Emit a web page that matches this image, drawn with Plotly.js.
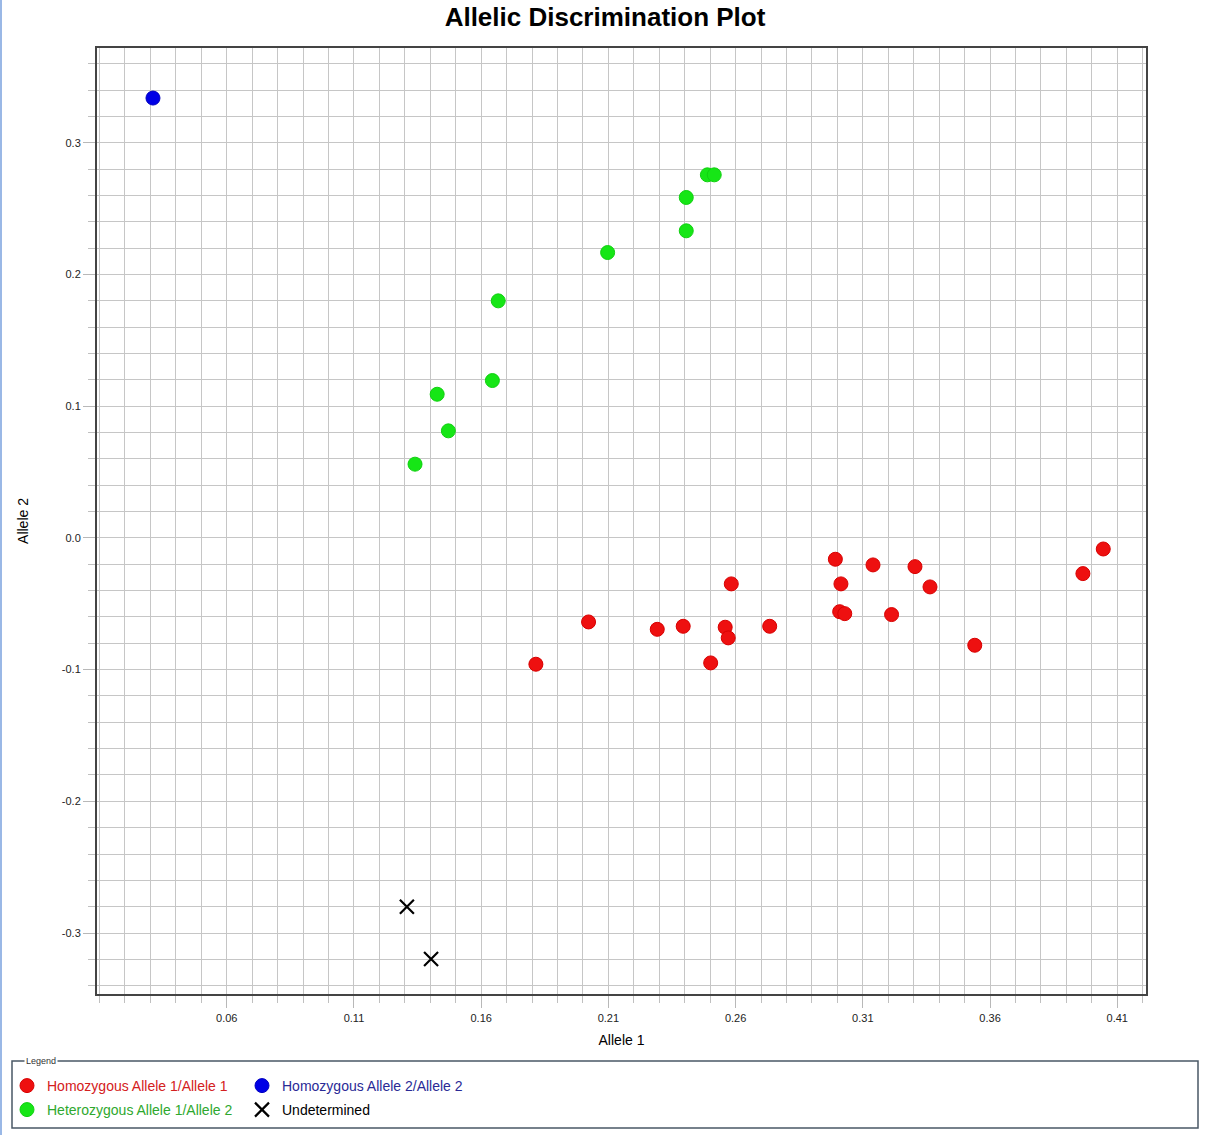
<!DOCTYPE html>
<html>
<head>
<meta charset="utf-8">
<script src="https://cdn.plot.ly/plotly-3.0.1.min.js"></script>
<style>html,body{margin:0;padding:0;background:#fff;}#chart{width:1210px;height:1135px;}</style>
</head>
<body>
<div id="chart"></div>
<script>
// Homozygous Allele 1/Allele 1
var hom1X = [0.1815, 0.2022, 0.2292, 0.2394, 0.2583, 0.2559, 0.2571, 0.2502, 0.2734, 0.2992, 0.3014, 0.3009, 0.3029, 0.3140, 0.3213, 0.3305, 0.3364, 0.3540, 0.3965, 0.4045];
var hom1Y = [-0.0959, -0.0638, -0.0694, -0.0671, -0.0349, -0.0678, -0.0759, -0.0949, -0.0671, -0.0162, -0.0349, -0.0560, -0.0575, -0.0205, -0.0582, -0.0218, -0.0372, -0.0815, -0.0271, -0.0084];
// Homozygous Allele 2/Allele 2
var hom2X = [0.031];
var hom2Y = [0.334];
// Heterozygous Allele 1/Allele 2
var hetX = [0.2489, 0.2516, 0.2406, 0.2406, 0.2097, 0.1667, 0.1644, 0.1427, 0.1471, 0.1340];
var hetY = [0.2757, 0.2757, 0.2585, 0.2332, 0.2167, 0.1800, 0.1195, 0.1091, 0.0813, 0.0560];
// Undetermined
var undX = [0.1308, 0.1403];
var undY = [-0.2800, -0.3197];

// Tick labels
var xTickVals = [0.06, 0.11, 0.16, 0.21, 0.26, 0.31, 0.36, 0.41];
var xTickText = ['0.06', '0.11', '0.16', '0.21', '0.26', '0.31', '0.36', '0.41'];
var yTickVals = [-0.3, -0.2, -0.1, 0.0, 0.1, 0.2, 0.3];
var yTickText = ['-0.3', '-0.2', '-0.1', '0.0', '0.1', '0.2', '0.3'];

var names = ['Homozygous Allele 1/Allele 1', 'Homozygous Allele 2/Allele 2', 'Heterozygous Allele 1/Allele 2', 'Undetermined'];

var font = '"Liberation Sans", Arial, sans-serif';

var traces = [
  {x: hom1X, y: hom1Y, name: '<span style="color:#d42020">' + names[0] + '</span>', type: 'scatter', mode: 'markers',
   marker: {color: '#ee1010', size: 14, line: {color: '#d80000', width: 1}}, legend: 'legend'},
  {x: hom2X, y: hom2Y, name: '<span style="color:#2a2a96">' + names[1] + '</span>', type: 'scatter', mode: 'markers',
   marker: {color: '#0000e6', size: 14, line: {color: '#0000c0', width: 1}}, legend: 'legend'},
  {x: hetX, y: hetY, name: '<span style="color:#2ea82e">' + names[2] + '</span>', type: 'scatter', mode: 'markers',
   marker: {color: '#16e616', size: 14, line: {color: '#10d010', width: 1}}, legend: 'legend2'},
  {x: undX, y: undY, name: '<span style="color:#000">' + names[3] + '</span>', type: 'scatter', mode: 'markers',
   marker: {color: '#000', size: 14, symbol: 'x-thin-open', line: {color: '#000', width: 2.2}}, legend: 'legend2'}
];

var W = 1210, H = 1135, L = 97, R = 64, T = 48, B = 141;
var pw = W - L - R, ph = H - T - B;
function px(x) { return (x - L) / pw; }
function py(y) { return (H - B - y) / ph; }

var legendCommon = {
  orientation: 'h', xanchor: 'left', yanchor: 'middle', xref: 'container', yref: 'container',
  bgcolor: 'rgba(0,0,0,0)', borderwidth: 0,
  font: {family: font, size: 14, color: '#000'},
  entrywidth: 190, entrywidthmode: 'pixels', tracegroupgap: 0
};

var layout = {
  width: W, height: H,
  margin: {l: L, r: R, t: T, b: B, pad: 0, autoexpand: false},
  paper_bgcolor: '#fff', plot_bgcolor: '#fff',
  title: {text: '<b>Allelic Discrimination Plot</b>', font: {family: font, size: 26, color: '#000'},
          x: 0.5, xref: 'container', xanchor: 'center', y: 1 - 17 / H, yref: 'container', yanchor: 'middle'},
  xaxis: {
    range: [0.009, 0.4213], tickmode: 'array', tickvals: xTickVals, ticktext: xTickText,
    ticks: 'outside', ticklen: 12, tickcolor: '#b8b8b8', tickwidth: 1, ticklabelstandoff: 1,
    showgrid: true, gridcolor: '#c6c6c6', gridwidth: 1, zeroline: false,
    showline: true, linecolor: '#444', linewidth: 2, mirror: true,
    minor: {tickmode: 'linear', dtick: 0.01, tick0: 0.06, ticks: 'outside', ticklen: 7, tickcolor: '#c0c0c0', showgrid: true, gridcolor: '#c6c6c6', gridwidth: 1},
    tickfont: {family: font, size: 11, color: '#222'},
    title: {text: 'Allele 1', font: {family: font, size: 14, color: '#000'}, standoff: 12}
  },
  yaxis: {
    range: [-0.3463, 0.372], tickmode: 'array', tickvals: yTickVals, ticktext: yTickText,
    ticks: 'outside', ticklen: 12, tickcolor: '#b8b8b8', tickwidth: 1,
    showgrid: true, gridcolor: '#c6c6c6', gridwidth: 1, zeroline: false,
    showline: true, linecolor: '#444', linewidth: 2, mirror: true,
    minor: {tickmode: 'linear', dtick: 0.02, tick0: 0, ticks: 'outside', ticklen: 7, tickcolor: '#c0c0c0', showgrid: true, gridcolor: '#c6c6c6', gridwidth: 1},
    tickfont: {family: font, size: 11, color: '#222'},
    title: {text: 'Allele 2', font: {family: font, size: 14, color: '#000'}, standoff: 30}
  },
  legend: Object.assign({}, legendCommon, {x: 7 / W, y: 1 - 1086 / H}),
  legend2: Object.assign({}, legendCommon, {x: 7 / W, y: 1 - 1110 / H}),
  shapes: [
    {type: 'rect', xref: 'paper', yref: 'paper', x0: px(12), x1: px(1198), y0: py(1128), y1: py(1061),
     line: {color: '#4a5866', width: 1.5}, fillcolor: 'rgba(0,0,0,0)', layer: 'below'},
    {type: 'line', xref: 'paper', yref: 'paper', x0: px(1), x1: px(1), y0: py(H), y1: py(0),
     line: {color: '#9ab8e6', width: 2}}
  ],
  annotations: [
    {text: 'Legend', xref: 'paper', yref: 'paper', x: px(24), y: py(1061), xanchor: 'left', yanchor: 'middle',
     showarrow: false, font: {family: font, size: 9, color: '#333'}, bgcolor: '#fff', borderpad: 1}
  ]
};

Plotly.newPlot('chart', traces, layout, {displayModeBar: false, staticPlot: true});
</script>
</body>
</html>
